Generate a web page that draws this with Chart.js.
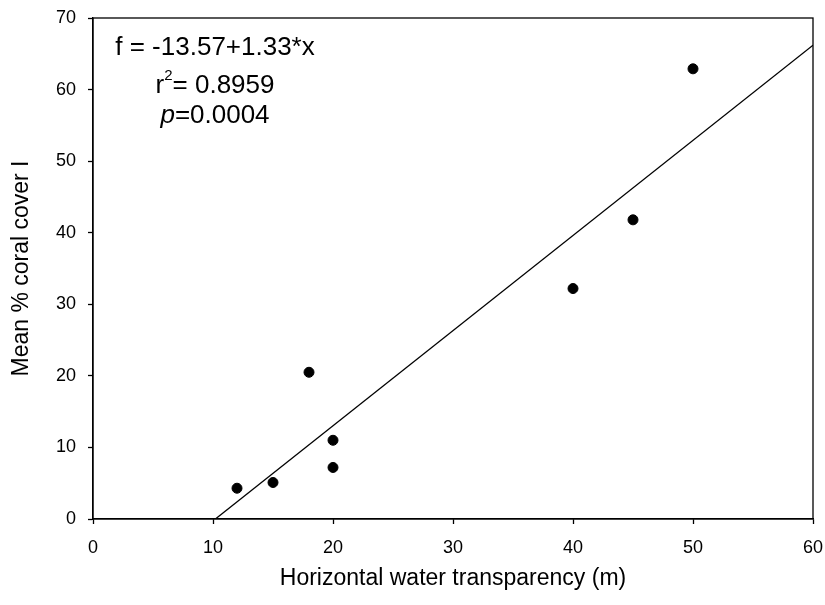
<!DOCTYPE html>
<html>
<head>
<meta charset="utf-8">
<script src="https://cdn.jsdelivr.net/npm/chart.js@4.4.1/dist/chart.umd.min.js"></script>
<style>
  body { margin: 0; background: #fff; }
  #wrap { width: 825px; height: 605px; }
</style>
</head>
<body>
<div id="wrap"><canvas id="coral-chart" width="825" height="605"></canvas></div>
<script>
// values
let transparency = [12, 15, 18, 20, 20, 40, 45, 50]
let coralCover = [4.3, 5.1, 20.5, 11.0, 7.2, 32.2, 41.8, 62.9]
// ends of the fitted line as drawn
let fitX = [10.2, 60]
let fitY = [0, 66.2]
let xTicks = [0, 10, 20, 30, 40, 50, 60]
let yTicks = [0, 10, 20, 30, 40, 50, 60, 70]
let statLines = ["f = -13.57+1.33*x", "= 0.8959", "=0.0004"]

const FONT = "'Liberation Sans', Arial, sans-serif"

let points = transparency.map((x, i) => ({ x: x, y: coralCover[i] }))
let fitLine = fitX.map((x, i) => ({ x: x, y: fitY[i] }))

// box round the plot + regression text
const boxAndText = {
  id: 'boxAndText',
  afterDraw(chart) {
    let ctx = chart.ctx
    let a = chart.chartArea
    ctx.save()
    ctx.strokeStyle = '#000'
    ctx.lineWidth = 1.3
    ctx.strokeRect(a.left, a.top, a.right - a.left, a.bottom - a.top)

    ctx.fillStyle = '#000'
    ctx.textBaseline = 'alphabetic'
    let cx = 215
    let big = '26px ' + FONT
    let small = '15px ' + FONT
    // line 1
    ctx.font = big
    ctx.textAlign = 'center'
    ctx.fillText(statLines[0], cx, 55)
    // line 2, r with superscript 2
    ctx.textAlign = 'left'
    let w1 = ctx.measureText('r').width
    ctx.font = small
    let w2 = ctx.measureText('2').width
    ctx.font = big
    let w3 = ctx.measureText(statLines[1]).width
    let start = cx - (w1 + w2 + w3) / 2
    ctx.fillText('r', start, 93)
    ctx.font = small
    ctx.fillText('2', start + w1, 80)
    ctx.font = big
    ctx.fillText(statLines[1], start + w1 + w2, 93)
    // line 3, italic p
    ctx.font = 'italic ' + big
    let p1 = ctx.measureText('p').width
    ctx.font = big
    let p2 = ctx.measureText(statLines[2]).width
    start = cx - (p1 + p2) / 2
    ctx.font = 'italic ' + big
    ctx.fillText('p', start, 123)
    ctx.font = big
    ctx.fillText(statLines[2], start + p1, 123)
    ctx.restore()
  }
}

new Chart(document.getElementById('coral-chart'), {
  type: 'scatter',
  data: {
    datasets: [{
      label: 'sites',
      data: points,
      backgroundColor: '#000',
      borderColor: '#000',
      pointRadius: 5,
      pointHoverRadius: 5
    }, {
      label: 'fit',
      type: 'line',
      data: fitLine,
      borderColor: '#000',
      borderWidth: 1.3,
      pointRadius: 0,
      fill: false
    }]
  },
  options: {
    responsive: false,
    animation: false,
    layout: { padding: { top: 18, right: 12, left: 0, bottom: 0 } },
    plugins: {
      legend: { display: false },
      tooltip: { enabled: false }
    },
    scales: {
      x: {
        type: 'linear',
        min: 0,
        max: 60,
        afterBuildTicks: (scale) => { scale.ticks = xTicks.map(v => ({ value: v })) },
        afterFit: (scale) => {
          scale.height = 605 - 519
          scale.paddingRight = 0
          scale.paddingLeft = 0
        },
        grid: { display: true, drawOnChartArea: false, drawTicks: true, tickLength: 5, tickColor: '#000', tickWidth: 1.3 },
        border: { display: true, color: '#000', width: 1.3 },
        ticks: { color: '#000', font: { family: FONT, size: 18 }, padding: 13, maxRotation: 0 },
        title: { display: true, text: 'Horizontal water transparency (m)', color: '#000', font: { family: FONT, size: 23 }, padding: { top: 0, bottom: 13 } }
      },
      y: {
        type: 'linear',
        min: 0,
        max: 70,
        afterBuildTicks: (scale) => { scale.ticks = yTicks.map(v => ({ value: v })) },
        afterFit: (scale) => {
          scale.width = 93
          scale.paddingTop = 0
        },
        grid: { display: true, drawOnChartArea: false, drawTicks: true, tickLength: 5, tickColor: '#000', tickWidth: 1.3 },
        border: { display: true, color: '#000', width: 1.3 },
        ticks: { color: '#000', font: { family: FONT, size: 18 }, padding: 12 },
        title: { display: true, text: 'Mean % coral cover I', color: '#000', font: { family: FONT, size: 23 }, padding: { top: 8, bottom: 0 } }
      }
    }
  },
  plugins: [boxAndText]
})
</script>
</body>
</html>
